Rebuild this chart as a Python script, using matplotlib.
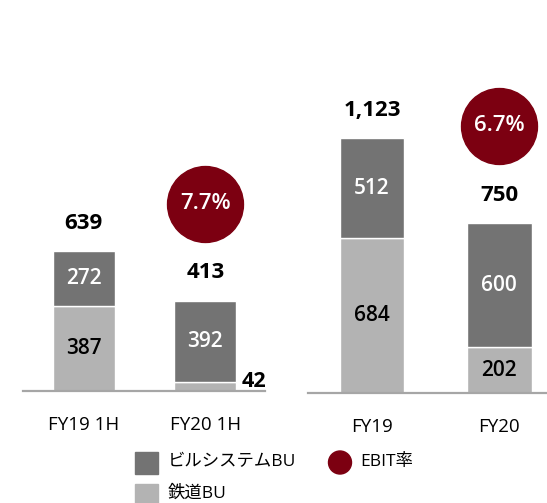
import matplotlib.pyplot as plt
from matplotlib.patches import Rectangle, Circle
from matplotlib.transforms import ScaledTranslation

plt.rcParams['font.family'] = ['Open Sans', 'Noto Sans CJK JP', 'DejaVu Sans']

# half-year panel
HALF_LABELS = ['FY19 1H', 'FY20 1H']
HALF_RAIL = [387, 42]
HALF_BLDG = [272, 392]
HALF_TOTAL = [639, 413]
HALF_EBIT = '7.7%'

# full-year panel
YEAR_LABELS = ['FY19', 'FY20']
YEAR_RAIL = [684, 202]
YEAR_BLDG = [512, 600]
YEAR_TOTAL = [1123, 750]
YEAR_EBIT = '6.7%'

LEGEND_LABELS = ['ビルシステムBU', '鉄道BU', 'EBIT率']

DARK = '#737373'
LIGHT = '#b3b3b3'
RED = '#7c0011'
AXIS = '#a6a6a6'

W, H = 547, 503


def px_box(left, right, base):
    '''axes rect (figure fractions) from pixel edges, axes top at figure top'''
    return [left / W, (H - base) / H, (right - left) / W, base / H]


def draw_panel(ax, labels, rail, bldg, total, ebit, xlim, ymax, width):
    x = list(range(len(labels)))
    top = [t - r for t, r in zip(total, rail)]
    ax.bar(x, rail, width=width, color=LIGHT, edgecolor='white', linewidth=1)
    ax.bar(x, top, bottom=rail, width=width, color=DARK, edgecolor='white', linewidth=1)

    for i in x:
        # segment labels
        if rail[i] > 100:
            ax.text(i, rail[i] / 2, str(rail[i]), ha='center', va='center',
                    fontsize=15, fontweight='semibold', color='black')
        else:
            ax.annotate(str(rail[i]), (i + width / 2, rail[i]), xytext=(4, 0),
                        textcoords='offset points', ha='left', va='center',
                        fontsize=15.5, fontweight='bold', color='black')
        ax.text(i, rail[i] + top[i] / 2, str(bldg[i]), ha='center', va='center',
                fontsize=15, fontweight='semibold', color='white')
        ax.annotate('{:,}'.format(total[i]), (i, total[i]), xytext=(0, 20),
                    textcoords='offset points', ha='center', va='center',
                    fontsize=16, fontweight='bold', color='black')

    # EBIT margin bubble above the last bar
    shift = ax.transData + ScaledTranslation(0, 0.97, ax.figure.dpi_scale_trans)
    ax.scatter([x[-1]], [total[-1]], s=2990, color=RED, transform=shift, zorder=3)
    ax.annotate(ebit, (x[-1], total[-1]), xytext=(0, 70), textcoords='offset points',
                ha='center', va='center', fontsize=16, fontweight='semibold',
                color='white', zorder=4)

    ax.set_xlim(*xlim)
    ax.set_ylim(0, ymax)
    for side in ['top', 'right', 'left']:
        ax.spines[side].set_visible(False)
    ax.spines['bottom'].set_color(AXIS)
    ax.spines['bottom'].set_linewidth(1.6)
    ax.set_yticks([])
    ax.set_xticks(x)
    ax.set_xticklabels(labels, fontsize=13.5)
    ax.tick_params(axis='x', length=0, pad=18)


fig = plt.figure(figsize=(W / 100, H / 100), dpi=100)

ax1 = fig.add_axes(px_box(23, 265, 391))
draw_panel(ax1, HALF_LABELS, HALF_RAIL, HALF_BLDG, HALF_TOTAL, HALF_EBIT,
           (-0.499, 1.491), 391 / 0.219, 0.51)

ax2 = fig.add_axes(px_box(308, 547, 393.3))
draw_panel(ax2, YEAR_LABELS, YEAR_RAIL, YEAR_BLDG, YEAR_TOTAL, YEAR_EBIT,
           (-0.503, 1.375), 393.3 / 0.227, 0.51)

# legend drawn in pixel space
leg = fig.add_axes([0, 0, 1, 1], zorder=-1)
leg.set_xlim(0, W)
leg.set_ylim(H, 0)
leg.axis('off')
leg.add_patch(Rectangle((135, 451.5), 22.5, 22, color=DARK))
leg.add_patch(Rectangle((135, 484.3), 22.5, 22, color=LIGHT))
leg.add_patch(Circle((340, 462.5), 11.5, color=RED))
leg.text(168, 462, LEGEND_LABELS[0], ha='left', va='center', fontsize=12.5)
leg.text(168, 494, LEGEND_LABELS[1], ha='left', va='center', fontsize=12.5)
leg.text(360.5, 462, LEGEND_LABELS[2], ha='left', va='center', fontsize=12.5)

plt.savefig('out.png', dpi=100)
